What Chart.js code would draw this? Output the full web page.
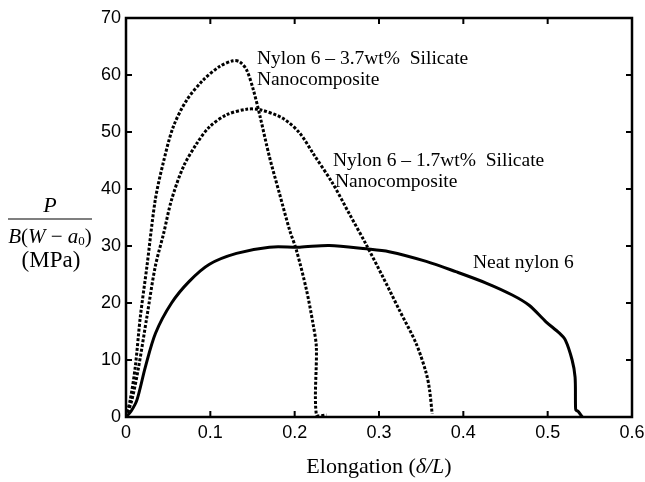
<!DOCTYPE html>
<html>
<head>
<meta charset="utf-8">
<script src="https://cdn.jsdelivr.net/npm/chart.js@4/dist/chart.umd.min.js"></script>
<style>
  html, body { margin: 0; padding: 0; background: #fff; }
</style>
</head>
<body>
<canvas id="mycanvas" width="645" height="482"></canvas>
<script>
// neat nylon 6 (solid)
var neatX = [0, 0.006, 0.013, 0.023, 0.035, 0.054, 0.075, 0.099, 0.131, 0.170, 0.206, 0.241, 0.285, 0.312, 0.356, 0.391, 0.427, 0.458, 0.478, 0.498, 0.514, 0.521, 0.529, 0.5325, 0.533, 0.5335, 0.536, 0.541];
var neatY = [0, 1, 3, 8.8, 14.7, 20, 23.8, 26.8, 28.7, 29.8, 29.8, 30.1, 29.5, 29.0, 27.3, 25.5, 23.5, 21.4, 19.6, 16.7, 14.7, 13.5, 10, 7, 2, 1.2, 1.0, 0];

// nylon 6 - 3.7wt% silicate
var n37X = [0, 0.005, 0.011, 0.017, 0.0248, 0.0347, 0.044, 0.056, 0.072, 0.0915, 0.111, 0.127, 0.135, 0.143, 0.151, 0.159, 0.170, 0.182, 0.194, 0.202, 0.214, 0.2217, 0.2257, 0.2258, 0.2375];
var n37Y = [0, 3, 8.8, 17.6, 26.4, 38.1, 44.5, 50.9, 55.6, 59.1, 61.5, 62.5, 62.3, 60.9, 57.4, 52.7, 45.7, 39.2, 32.8, 29.3, 22.3, 16.4, 12.3, 0.35, 0.35];

// nylon 6 - 1.7wt% silicate
var n17X = [0, 0.007, 0.015, 0.0248, 0.0347, 0.0446, 0.054, 0.068, 0.084, 0.099, 0.119, 0.143, 0.159, 0.186, 0.206, 0.222, 0.245, 0.265, 0.285, 0.3045, 0.324, 0.344, 0.356, 0.360, 0.363];
var n17Y = [0, 3, 8.8, 17.6, 26.4, 32.2, 38.1, 43.9, 48, 50.9, 53, 54, 53.9, 52.4, 49.8, 46.2, 41, 35.6, 30.2, 24.6, 18.8, 12.9, 7.7, 4.7, 0.6];

var xTicks = [0, 0.1, 0.2, 0.3, 0.4, 0.5, 0.6];
var yTicks = [0, 10, 20, 30, 40, 50, 60, 70];

function pts(xs, ys) {
  var out = [];
  for (var i = 0; i < xs.length; i++) out.push({x: xs[i], y: ys[i]});
  return out;
}

var serif = '"Liberation Serif", "Times New Roman", serif';

var decorPlugin = {
  id: 'decor',
  afterDraw: function(chart) {
    var ctx = chart.ctx;
    var a = chart.chartArea;
    var xs = chart.scales.x, ys = chart.scales.y;
    ctx.save();
    ctx.strokeStyle = '#000';
    ctx.lineWidth = 2.5;
    ctx.strokeRect(a.left, a.top, a.right - a.left, a.bottom - a.top);
    ctx.lineWidth = 2;
    var tl = 6;
    ctx.beginPath();
    xTicks.forEach(function(v) {
      var px = xs.getPixelForValue(v);
      ctx.moveTo(px, a.bottom); ctx.lineTo(px, a.bottom - tl);
      ctx.moveTo(px, a.top); ctx.lineTo(px, a.top + tl);
    });
    yTicks.forEach(function(v) {
      var py = ys.getPixelForValue(v);
      ctx.moveTo(a.left, py); ctx.lineTo(a.left + tl, py);
      ctx.moveTo(a.right, py); ctx.lineTo(a.right - tl, py);
    });
    ctx.stroke();

    ctx.fillStyle = '#000';
    ctx.textBaseline = 'middle';
    ctx.textAlign = 'left';
    ctx.font = '19.5px ' + serif;
    ctx.fillText('Nylon 6 \u2013 3.7wt%  Silicate', 257, 59);
    ctx.fillText('Nanocomposite', 257, 80);
    ctx.fillText('Nylon 6 \u2013 1.7wt%  Silicate', 333, 161);
    ctx.fillText('Nanocomposite', 335, 182);
    ctx.fillText('Neat nylon 6', 473, 263);

    // x axis title
    var cx = (a.left + a.right) / 2;
    var f1 = '22px ' + serif;
    var f2 = 'italic 22px ' + serif;
    var parts = [['Elongation (', f1], ['\u03b4/L', f2], [')', f1]];
    var w = 0;
    parts.forEach(function(p) { ctx.font = p[1]; w += ctx.measureText(p[0]).width; });
    var x0 = cx - w / 2;
    parts.forEach(function(p) { ctx.font = p[1]; ctx.fillText(p[0], x0, 467); x0 += ctx.measureText(p[0]).width; });

    // y axis title (fraction)
    ctx.textAlign = 'center';
    ctx.font = 'italic 22px ' + serif;
    ctx.fillText('P', 50, 206);
    ctx.lineWidth = 1.2;
    ctx.beginPath(); ctx.moveTo(8, 219); ctx.lineTo(92, 219); ctx.stroke();
    var yb = 237;
    var segs = [['B', 'italic 21px ' + serif], ['(', '21px ' + serif],
                ['W', 'italic 21px ' + serif], [' \u2212 ', '21px ' + serif],
                ['a', 'italic 21px ' + serif], ['0', '13px ' + serif],
                [')', '21px ' + serif]];
    var tw = 0;
    segs.forEach(function(s) { ctx.font = s[1]; tw += ctx.measureText(s[0]).width; });
    var sx = 50 - tw / 2;
    ctx.textAlign = 'left';
    segs.forEach(function(s) {
      ctx.font = s[1];
      ctx.fillText(s[0], sx, s[0] === '0' ? yb + 5 : yb);
      sx += ctx.measureText(s[0]).width;
    });
    ctx.textAlign = 'center';
    ctx.font = '23px ' + serif;
    ctx.fillText('(MPa)', 51, 261);
    ctx.restore();
  }
};

var ctx = document.getElementById('mycanvas');
var chart = new Chart(ctx, {
  type: 'scatter',
  data: {
    datasets: [
      { label: 'Neat nylon 6', data: pts(neatX, neatY), showLine: true, borderColor: '#000', borderWidth: 3, pointRadius: 0, tension: 0.3 },
      { label: 'Nylon 6 - 3.7wt% Silicate Nanocomposite', data: pts(n37X, n37Y), showLine: true, borderColor: '#000', borderWidth: 3, borderDash: [3, 1.8], pointRadius: 0, tension: 0.3 },
      { label: 'Nylon 6 - 1.7wt% Silicate Nanocomposite', data: pts(n17X, n17Y), showLine: true, borderColor: '#000', borderWidth: 3, borderDash: [3, 1.8], pointRadius: 0, tension: 0.3 }
    ]
  },
  options: {
    responsive: false,
    animation: false,
    devicePixelRatio: 1,
    layout: { padding: { left: 0, right: 13, top: 18, bottom: 0 } },
    plugins: { legend: { display: false }, tooltip: { enabled: false } },
    scales: {
      x: {
        type: 'linear', min: 0, max: 0.6,
        afterBuildTicks: function(s) { s.ticks = xTicks.map(function(v) { return {value: v}; }); },
        afterFit: function(s) { s.height = 65; s.paddingRight = 0; s.paddingLeft = 0; },
        grid: { display: false, drawTicks: false },
        border: { display: false },
        ticks: { padding: 5, color: '#000', font: { family: '"Liberation Sans", Arial, sans-serif', size: 18 },
                 callback: function(v) { return v === 0 ? '0' : v.toFixed(1); } }
      },
      y: {
        type: 'linear', min: 0, max: 70,
        afterBuildTicks: function(s) { s.ticks = yTicks.map(function(v) { return {value: v}; }); },
        afterFit: function(s) { s.width = 126; s.paddingTop = 0; s.paddingBottom = 0; },
        grid: { display: false, drawTicks: false },
        border: { display: false },
        ticks: { padding: 5, color: '#000', font: { family: '"Liberation Sans", Arial, sans-serif', size: 18 } }
      }
    }
  },
  plugins: [decorPlugin]
});
</script>
</body>
</html>
